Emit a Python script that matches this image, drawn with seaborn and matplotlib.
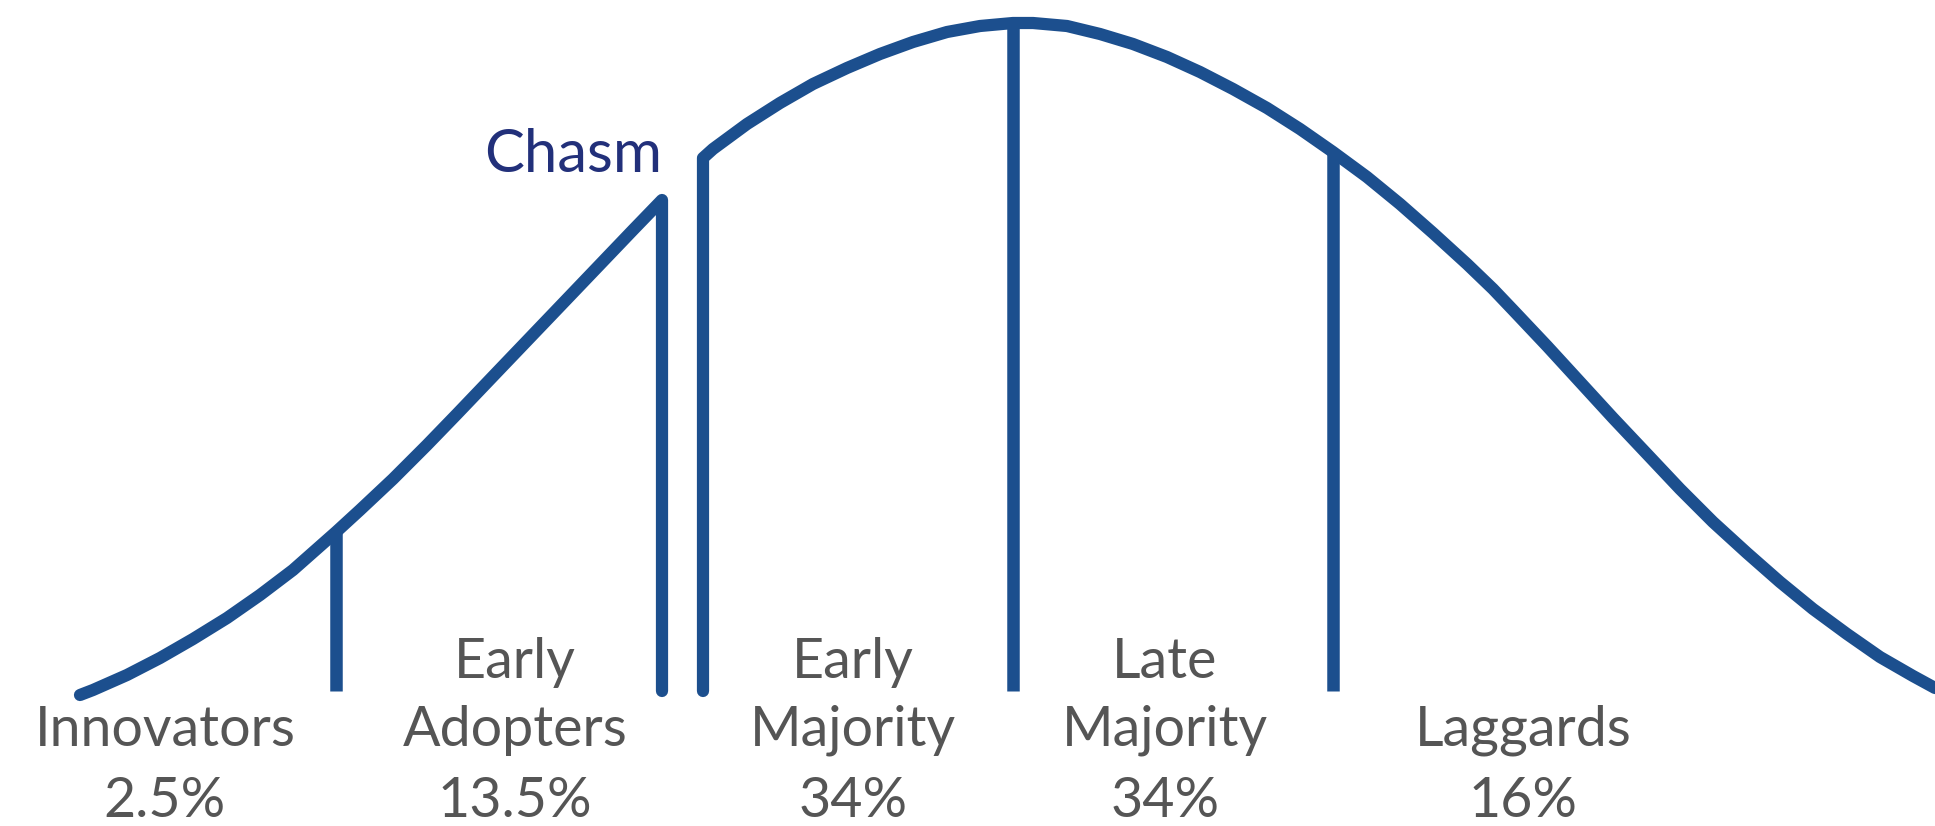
import matplotlib
matplotlib.use("Agg")
import matplotlib.pyplot as plt
import seaborn as sns

# curve (pixel coords, y down)
left_x = [80, 93, 127, 160, 193, 227, 260, 293, 336, 360, 393, 427, 457, 500, 567, 633, 662, 662]
left_y = [695, 690, 675, 658, 639, 618, 595, 570, 532, 510, 479, 445, 414, 369, 299, 230, 200, 691]

right_x = [703, 703, 713, 747, 780, 813, 847, 880, 913, 947, 980, 1013, 1033, 1067,
           1100, 1133, 1167, 1200, 1233, 1267, 1300, 1333, 1367, 1400, 1433, 1467,
           1493, 1513, 1547, 1580, 1613, 1647, 1680, 1713, 1747, 1780, 1813, 1847,
           1880, 1913, 1935]
right_y = [691, 158, 149, 124, 103, 84, 68, 54, 42, 32, 26, 23, 23, 26,
           34, 44, 57, 72, 89, 108, 129, 152, 177, 204, 233, 264,
           289, 310, 346, 382, 418, 454, 489, 522, 553, 582, 609, 634,
           657, 676, 688]

# dividers: innovators / mean / late majority
div_x = [336, 1013, 1333]
div_top = [532, 23, 152]
div_bottom = 691

groups = [["Innovators"], ["Early", "Adopters"], ["Early", "Majority"],
          ["Late", "Majority"], ["Laggards"]]
shares = ["2.5%", "13.5%", "34%", "34%", "16%"]
group_x = [165, 515, 853, 1165, 1523]

blue = "#1c4f8e"

sns.set_theme(style="white")
plt.rcParams['font.family'] = ['Lato', 'DejaVu Sans']

fig = plt.figure(figsize=(19.35, 8.26), dpi=100)
ax = fig.add_axes([0, 0, 1, 1])

for xs, ys in [(left_x, left_y), (right_x, right_y)]:
    sns.lineplot(x=xs, y=ys, sort=False, estimator=None, color=blue,
                 linewidth=8.8, ax=ax, solid_joinstyle="round")
ax.vlines(div_x, div_top, div_bottom, color=blue, linewidth=9)

rows = [678, 746, 817]
for x, words, share in zip(group_x, groups, shares):
    lines = words + [share]
    start = 3 - len(lines)
    for i, t in enumerate(lines):
        ax.text(x, rows[start + i], t, ha="center", va="baseline",
                fontsize=40, color="#555555")

ax.text(662, 172, "Chasm", ha="right", va="baseline", fontsize=43,
        color="#22307a")

ax.set_xlim(0, 1935)
ax.set_ylim(826, 0)
ax.axis("off")

plt.savefig("out.png", dpi=100)
